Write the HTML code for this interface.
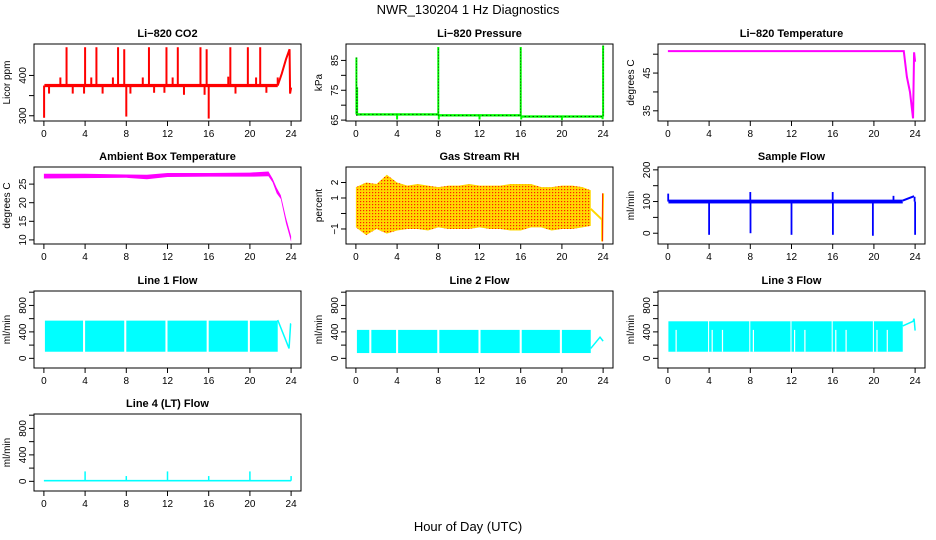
<!DOCTYPE html>
<html><head><meta charset="utf-8"><style>
body{margin:0;background:#fff}
svg{display:block;font-family:"Liberation Sans",Arial,sans-serif}
</style></head><body>
<svg id="chart" width="936" height="540" viewBox="0 0 936 540" xmlns="http://www.w3.org/2000/svg">
<rect width="936" height="540" fill="#fff"/>
<text x="468" y="14" font-size="13" text-anchor="middle">NWR_130204  1 Hz Diagnostics</text>
<text x="468" y="531" font-size="13" text-anchor="middle">Hour of Day (UTC)</text>
<g id="panels"></g>
</svg>
<script>
const xTicks=[0,4,8,12,16,20,24];
// CO2
const co2BaseHours=[0.05,22.7];
const co2Base=375;
const co2SpikeHours=[2.2,4.0,5.1,7.2,7.8,10.2,11.9,13.0,15.2,15.8,18.1,19.8,21.0,0.02,8.0,16.0,0.5,2.8,3.9,5.7,8.4,10.7,11.7,13.6,15.6,18.6,21.6,1.6,4.6,6.7,9.6,12.5,17.9,20.6,22.7];
const co2SpikeValues=[470,470,470,470,465,470,470,470,470,465,470,470,470,295,298,293,355,355,355,355,355,357,357,352,352,355,357,395,395,395,395,395,397,395,395];
const co2RampHours=[22.7,23.1,23.5,23.85,23.9,24.0];
const co2RampValues=[375,405,440,465,355,370];
// Pressure
const presSegStart=[0.05,8.0,16.0];
const presSegEnd=[8.0,16.0,24.0];
const presSegValue=[66.9,66.6,66.2];
const presSpikeHours=[0.05,0.12,8.0,16.0,24.0,4.0,8.05,12.0,16.05,20.0,23.95];
const presSpikeValues=[86,76,89.5,89.5,90,65.2,65.2,65.2,65.2,65.0,65.3];
// Li-820 temperature
const tempHours=[0,22.9,23.2,23.5,23.8,23.9,24.0];
const tempValues=[50.8,50.8,44,40,33,50.5,48];
// Ambient
const ambHours=[0,4,8,10,12,16,20,21.8,22.2,22.6,23.0,23.5,24.0];
const ambUpper=[27.8,27.8,27.6,27.5,28.0,28.0,28.1,28.4,26.5,24,22,16,11];
const ambLower=[26.5,26.6,26.7,26.3,26.9,27.0,27.0,27.1,25.5,22.5,21,14.5,9.5];
// RH
const rhHours=[0,1,2,3,4,5,6,7,8,9,10,11,12,13,14,15,16,17,18,19,20,21,22,22.8];
const rhUpper=[1.7,2.0,1.9,2.5,2.0,1.8,1.9,1.8,1.7,1.8,1.8,1.9,1.8,1.8,1.8,1.9,1.9,1.9,1.7,1.7,1.8,1.8,1.7,1.5];
const rhLower=[-0.9,-1.4,-1.0,-1.3,-1.1,-1.0,-1.0,-1.1,-0.9,-1.0,-1.0,-1.0,-0.9,-1.0,-1.0,-1.1,-1.1,-0.9,-0.9,-1.1,-1.0,-1.0,-0.9,-0.8];
const rhTailHours=[22.8,23.9,23.9,24.0];
const rhTailValues=[0.3,-0.4,-1.8,1.3];
// Sample flow
const sfBaseStart=0.05, sfBaseEnd=22.8;
const sfBaseLow=94, sfBaseHigh=106;
const sfSpikeHours=[0.03,4.0,8.0,8.02,12.0,16.0,16.02,19.9,23.95,24.0,21.9];
const sfSpikeValues=[125,-5,130,0,-5,130,-5,-8,115,-5,118];
const sfRampHours=[22.8,23.9];
const sfRampValues=[103,117];
// Line flows
const l1Start=[0.1,4.0,8.0,12.0,16.0,20.0];
const l1End=[3.8,7.8,11.8,15.8,19.8,22.7];
const l1Low=100, l1High=570;
const l1TailHours=[22.7,23.8,23.95,24.0];
const l1TailValues=[580,150,520,520];
const l2Start=[0.1,1.5,4.1,8.1,12.1,16.1,20.0];
const l2End=[1.3,3.9,7.9,11.9,15.9,19.8,22.8];
const l2Low=80, l2High=430;
const l2TailHours=[22.8,23.7,24.0];
const l2TailValues=[150,320,260];
const l3Start=[0.05,4.0,8.0,12.0,16.0,20.0];
const l3End=[3.9,7.9,11.9,15.9,19.9,22.8];
const l3Low=100, l3High=560;
const l3GapHours=[0.8,4.3,5.3,8.3,12.3,13.3,16.3,17.3,20.3,21.3];
const l3TailHours=[22.8,23.8,23.9,24.0];
const l3TailValues=[490,560,600,420];
const l4Base=10;
const l4SpikeHours=[4,8,12,16,20,24];
const l4SpikeValues=[150,80,150,80,150,80];

const NS="http://www.w3.org/2000/svg";
const root=document.getElementById('panels');
function el(tag,attrs,parent){const e=document.createElementNS(NS,tag);for(const k in attrs)e.setAttribute(k,attrs[k]);(parent||root).appendChild(e);return e;}

const colX=[34,346,658], rowY=[44,167,291,414], W=267, H=77;
function makePanel(col,row,name,title,ylab,ymin,ymax,ticks,labels){
  const x0=colX[col], y0=rowY[row];
  const g=el('g',{});
  
  
  const sx=h=>x0+(h+0.96)/25.92*W;
  const sy=v=>y0+H-(v-ymin)/(ymax-ymin)*H;
  const t=el('text',{x:x0+W/2,y:y0-7,'font-size':11,'font-weight':'bold','text-anchor':'middle'},g);
  t.textContent=title;
  
  
  const yl=el('text',{x:0,y:0,'font-size':10,'text-anchor':'middle',transform:`translate(${x0-24},${y0+H/2}) rotate(-90)`},g);
  yl.textContent=ylab;
  
  
  const plot=el('g',{},g);
  const clip='c'+col+row;
  const cp=el('clipPath',{id:clip},g);el('rect',{x:x0,y:y0,width:W,height:H},cp);
  plot.setAttribute('clip-path',`url(#${clip})`);
  const axes=el('g',{},g);
  const box=el('rect',{x:x0,y:y0,width:W,height:H,fill:'none',stroke:'#000','stroke-width':1},axes);
  
  
  xTicks.forEach(h=>{
    el('line',{x1:sx(h),x2:sx(h),y1:y0+H,y2:y0+H+5,stroke:'#000'},axes);
    const tl=el('text',{x:sx(h),y:y0+H+16,'font-size':10,'text-anchor':'middle'},axes);
    tl.textContent=h;
    
    
  });
  ticks.forEach((v,i)=>{
    el('line',{x1:x0-5,x2:x0,y1:sy(v),y2:sy(v),stroke:'#000'},axes);
    if(labels[i]!==''){
      const tl=el('text',{x:0,y:0,'font-size':10,'text-anchor':'middle',transform:`translate(${x0-8},${sy(v)}) rotate(-90)`},axes);
      tl.textContent=labels[i];
      
      
    }
  });
  return {plot,sx,sy};
}
function vline(p,h,v1,v2,color,w,dash){const a={x1:p.sx(h),x2:p.sx(h),y1:p.sy(v1),y2:p.sy(v2),stroke:color,'stroke-width':w||1.5};if(dash)a['stroke-dasharray']=dash;el('line',a,p.plot);}
function poly(p,hs,vs,color,w,dash){const pts=hs.map((h,i)=>p.sx(h)+','+p.sy(vs[i])).join(' ');const a={points:pts,fill:'none',stroke:color,'stroke-width':w||1.5};if(dash)a['stroke-dasharray']=dash;return el('polyline',a,p.plot);}
function band(p,h1,h2,lo,hi,color){el('rect',{x:p.sx(h1),y:p.sy(hi),width:p.sx(h2)-p.sx(h1),height:p.sy(lo)-p.sy(hi),fill:color},p.plot);}

// CO2
let p=makePanel(0,0,'co2-panel','Li−820 CO2','Licor ppm',287,478,[300,350,400],['300','','400']);
band(p,co2BaseHours[0],co2BaseHours[1],371,379,'#ff0000');
co2SpikeHours.forEach((h,i)=>vline(p,h,co2Base,co2SpikeValues[i],'#ff0000',2));
poly(p,co2RampHours,co2RampValues,'#ff0000',2);
// Pressure
p=makePanel(1,0,'pressure-panel','Li−820 Pressure','kPa',64.7,90.5,[65,70,75,80,85],['65','','75','','85']);
presSegStart.forEach((s,i)=>{band(p,s,presSegEnd[i],presSegValue[i]-0.4,presSegValue[i]+0.4,'#00ff00');poly(p,[s,presSegEnd[i]],[presSegValue[i],presSegValue[i]],'#000',1,'1,3');});
presSpikeHours.forEach((h,i)=>{vline(p,h,presSegValue[Math.min(2,Math.floor(h/8))],presSpikeValues[i],'#00ff00',2);});
presSpikeHours.slice(0,5).forEach((h,i)=>vline(p,h,66.5,presSpikeValues[i],'#000',0.7,'1,2'));
// Temp
p=makePanel(2,0,'li820-temperature-panel','Li−820 Temperature','degrees C',32.3,52.7,[35,40,45,50],['35','','45','']);
poly(p,tempHours,tempValues,'#ff00ff',2);
// Ambient
p=makePanel(0,1,'ambient-temperature-panel','Ambient Box Temperature','degrees C',8.9,29.6,[10,15,20,25],['10','15','20','25']);
{const pts=ambHours.map((h,i)=>p.sx(h)+','+p.sy(ambUpper[i])).concat(ambHours.slice().reverse().map((h,i)=>p.sx(h)+','+p.sy(ambLower[ambHours.length-1-i]))).join(' ');el('polygon',{points:pts,fill:'#ff00ff'},p.plot);}
// RH
p=makePanel(1,1,'gas-stream-rh-panel','Gas Stream RH','percent',-1.97,3.0,[-1,0,1,2],['−1','','1','2']);
{const pat=el('pattern',{id:'rhpat',width:3,height:3,patternUnits:'userSpaceOnUse'},p.plot);el('rect',{width:3,height:3,fill:'#ffd800'},pat);el('rect',{width:1.2,height:1.2,fill:'#ff2000'},pat);
const pts=rhHours.map((h,i)=>p.sx(h)+','+p.sy(rhUpper[i])).concat(rhHours.slice().reverse().map((h,i)=>p.sx(h)+','+p.sy(rhLower[rhHours.length-1-i]))).join(' ');el('polygon',{points:pts,fill:'url(#rhpat)'},p.plot);}
poly(p,rhTailHours,rhTailValues,'#ffd800',2);
vline(p,23.95,-1.8,1.3,'#ff2000',1);
// Sample flow
p=makePanel(2,1,'sample-flow-panel','Sample Flow','ml/min',-34,209,[0,50,100,150,200],['0','','100','','200']);
band(p,sfBaseStart,sfBaseEnd,sfBaseLow,sfBaseHigh,'#0000ff');
sfSpikeHours.forEach((h,i)=>vline(p,h,100,sfSpikeValues[i],'#0000ff',1.8));
poly(p,sfRampHours,sfRampValues,'#0000ff',2);
// Line flows
const flowTicks=[0,200,400,600,800,1000], flowLabels=['0','','400','','800',''];
p=makePanel(0,2,'line1-flow-panel','Line 1 Flow','ml/min',-146,1018,flowTicks,flowLabels);
l1Start.forEach((s,i)=>band(p,s,l1End[i],l1Low,l1High,'#00ffff'));
poly(p,l1TailHours,l1TailValues,'#00ffff',1.5);
p=makePanel(1,2,'line2-flow-panel','Line 2 Flow','ml/min',-146,1018,flowTicks,flowLabels);
l2Start.forEach((s,i)=>band(p,s,l2End[i],l2Low,l2High,'#00ffff'));
poly(p,l2TailHours,l2TailValues,'#00ffff',1.5);
p=makePanel(2,2,'line3-flow-panel','Line 3 Flow','ml/min',-146,1018,flowTicks,flowLabels);
l3Start.forEach((s,i)=>band(p,s,l3End[i],l3Low,l3High,'#00ffff'));
l3GapHours.forEach(h=>vline(p,h,l3Low,430,'#ffffff',1.2));
poly(p,l3TailHours,l3TailValues,'#00ffff',1.5);
p=makePanel(0,3,'line4-flow-panel','Line 4 (LT) Flow','ml/min',-146,1018,flowTicks,flowLabels);
band(p,0,24,l4Base-12,l4Base+12,'#00ffff');
l4SpikeHours.forEach((h,i)=>vline(p,h,l4Base,l4SpikeValues[i],'#00ffff',1.5));
</script>
</body></html>
